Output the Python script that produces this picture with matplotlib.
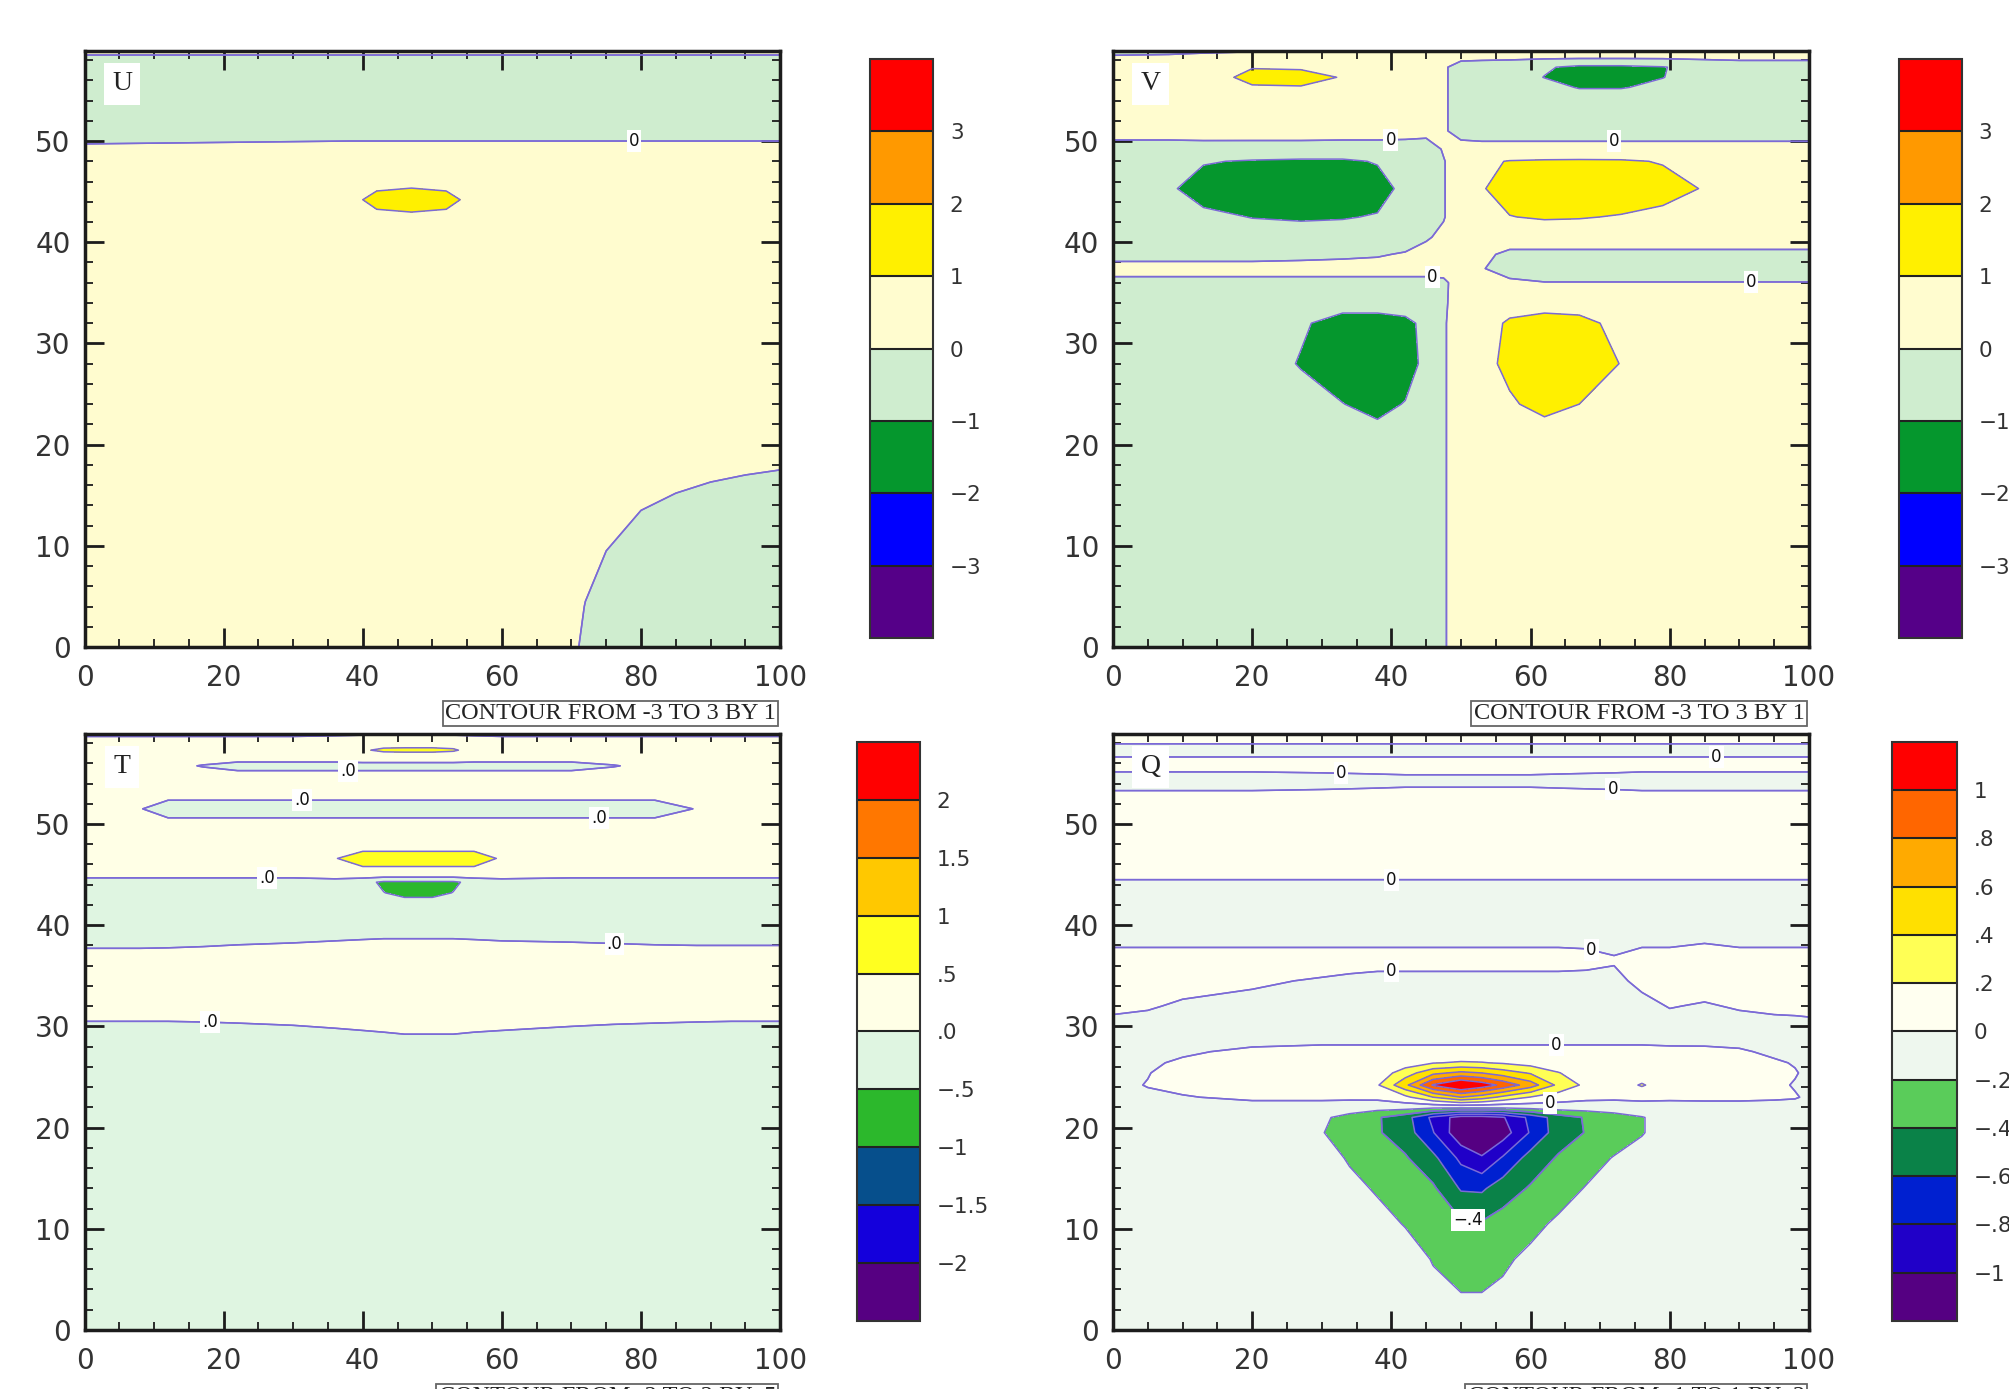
import numpy as np
import matplotlib
matplotlib.use('Agg')
import matplotlib.pyplot as plt
from matplotlib.colors import ListedColormap, BoundaryNorm
from matplotlib.ticker import MultipleLocator

plt.rcParams['contour.negative_linestyle'] = 'solid'

# ---------------- U field ----------------
u_x = [0, 20, 38, 42, 47, 52, 56, 65, 70, 72, 75, 80, 85, 90, 95, 100]
u_y = [0, 4, 8, 12, 16, 20, 40, 42, 44.2, 46.5, 48, 52, 56, 58, 59.5]
u_z = [
    [0.3, 0.3, 0.3, 0.3, 0.3, 0.3, 0.3, 0.3, 0.25, -0.225, -0.475, -0.675, -0.76, -0.8, -0.8, -0.8],
    [0.35, 0.35, 0.35, 0.35, 0.35, 0.35, 0.35, 0.35, 0.3, -0.025, -0.275, -0.475, -0.56, -0.615, -0.65, -0.675],
    [0.4, 0.4, 0.4, 0.4, 0.4, 0.4, 0.4, 0.4, 0.35, 0.175, -0.075, -0.275, -0.36, -0.415, -0.45, -0.475],
    [0.4, 0.4, 0.4, 0.4, 0.4, 0.4, 0.4, 0.4, 0.4, 0.375, 0.125, -0.075, -0.16, -0.215, -0.25, -0.275],
    [0.4, 0.4, 0.4, 0.4, 0.4, 0.4, 0.4, 0.4, 0.4, 0.4, 0.325, 0.125, 0.04, -0.015, -0.05, -0.075],
    [0.4, 0.4, 0.4, 0.4, 0.4, 0.4, 0.4, 0.4, 0.4, 0.4, 0.4, 0.325, 0.24, 0.185, 0.15, 0.125],
    [0.5, 0.5, 0.5, 0.5, 0.5, 0.5, 0.5, 0.5, 0.5, 0.5, 0.5, 0.5, 0.5, 0.5, 0.5, 0.5],
    [0.5, 0.5, 0.6, 0.6, 0.6, 0.6, 0.6, 0.5, 0.5, 0.5, 0.5, 0.5, 0.5, 0.5, 0.5, 0.5],
    [0.5, 0.5, 0.7, 1.3, 1.5, 1.3, 0.7, 0.5, 0.5, 0.5, 0.5, 0.5, 0.5, 0.5, 0.5, 0.5],
    [0.45, 0.45, 0.5, 0.5, 0.5, 0.5, 0.5, 0.45, 0.45, 0.45, 0.45, 0.45, 0.45, 0.45, 0.45, 0.45],
    [0.3, 0.35, 0.4, 0.4, 0.4, 0.4, 0.4, 0.4, 0.4, 0.4, 0.4, 0.4, 0.4, 0.4, 0.4, 0.4],
    [-0.4, -0.4, -0.4, -0.4, -0.4, -0.4, -0.4, -0.4, -0.4, -0.4, -0.4, -0.4, -0.4, -0.4, -0.4, -0.4],
    [-0.5, -0.5, -0.5, -0.5, -0.5, -0.5, -0.5, -0.5, -0.5, -0.5, -0.5, -0.5, -0.5, -0.5, -0.5, -0.5],
    [-0.1, -0.1, -0.1, -0.1, -0.1, -0.1, -0.1, -0.1, -0.1, -0.1, -0.1, -0.1, -0.1, -0.1, -0.1, -0.1],
    [0.2, 0.2, 0.2, 0.2, 0.2, 0.2, 0.2, 0.2, 0.2, 0.2, 0.2, 0.2, 0.2, 0.2, 0.2, 0.2],
]

# ---------------- V field ----------------
v_x = [0, 8, 13, 20, 27, 33, 38, 42, 45, 47.5, 50, 53, 57, 62, 67, 73, 79, 85, 90, 100]
v_y = [0, 21, 24, 28, 32, 34, 36, 37.4, 38.8, 40.5, 42.5, 45.3, 48, 49.2, 51, 54,
       55.3, 56.3, 57.3, 58.3, 59.5]
v_z = [
    [-0.5, -0.5, -0.5, -0.5, -0.5, -0.5, -0.5, -0.4, -0.3, -0.05, 0.25, 0.4, 0.4, 0.4, 0.4, 0.4, 0.4, 0.4, 0.4, 0.4],
    [-0.5, -0.5, -0.5, -0.6, -0.7, -0.7, -0.7, -0.7, -0.5, -0.05, 0.25, 0.5, 0.6, 0.65, 0.6, 0.6, 0.5, 0.4, 0.4, 0.4],
    [-0.5, -0.5, -0.5, -0.6, -0.7, -0.98, -1.3, -0.95, -0.6, -0.05, 0.25, 0.6, 0.9, 1.25, 1.0, 0.8, 0.6, 0.45, 0.4, 0.4],
    [-0.5, -0.5, -0.55, -0.6, -1.05, -1.5, -1.5, -1.5, -0.7, -0.05, 0.25, 0.75, 1.2, 1.5, 1.4, 0.98, 0.7, 0.5, 0.4, 0.4],
    [-0.5, -0.5, -0.55, -0.6, -0.9, -1.3, -1.3, -1.2, -0.8, -0.05, 0.25, 0.7, 1.1, 1.3, 1.2, 0.8, 0.6, 0.5, 0.4, 0.4],
    [-0.4, -0.4, -0.45, -0.5, -0.6, -0.7, -0.7, -0.6, -0.4, -0.08, 0.25, 0.6, 0.7, 0.7, 0.7, 0.6, 0.5, 0.4, 0.35, 0.35],
    [-0.15, -0.15, -0.15, -0.15, -0.15, -0.15, -0.15, -0.15, -0.15, -0.1, 0.25, 0.3, 0.15, 0.02, 0.02, 0.02, 0.02, 0.02, 0.02, 0.02],
    [0.2, 0.2, 0.2, 0.2, 0.2, 0.2, 0.2, 0.2, 0.2, 0.2, 0.25, 0.05, -0.35, -0.35, -0.35, -0.35, -0.35, -0.35, -0.35, -0.35],
    [-0.2, -0.2, -0.2, -0.2, -0.15, -0.1, -0.05, 0.05, 0.15, 0.2, 0.3, 0.2, -0.2, -0.2, -0.2, -0.2, -0.2, -0.2, -0.2, -0.2],
    [-0.6, -0.6, -0.65, -0.7, -0.7, -0.65, -0.5, -0.3, -0.05, 0.1, 0.3, 0.5, 0.5, 0.5, 0.5, 0.5, 0.5, 0.5, 0.5, 0.5],
    [-0.7, -0.8, -0.85, -1.02, -1.08, -1.05, -0.95, -0.6, -0.3, -0.03, 0.3, 0.75, 0.98, 1.08, 1.05, 0.95, 0.8, 0.7, 0.6, 0.5],
    [-0.6, -0.9, -1.3, -1.5, -1.5, -1.45, -1.3, -0.8, -0.5, -0.03, 0.3, 0.95, 1.3, 1.5, 1.5, 1.5, 1.3, 0.95, 0.6, 0.5],
    [-0.6, -0.8, -0.95, -1.06, -1.12, -1.12, -0.95, -0.7, -0.5, -0.03, 0.3, 0.85, 1.04, 1.1, 1.12, 1.1, 0.95, 0.7, 0.55, 0.5],
    [-0.4, -0.4, -0.4, -0.45, -0.45, -0.45, -0.4, -0.4, -0.3, 0.05, 0.3, 0.3, 0.3, 0.3, 0.3, 0.3, 0.3, 0.3, 0.3, 0.3],
    [0.4, 0.4, 0.45, 0.5, 0.5, 0.45, 0.4, 0.35, 0.2, 0.1, -0.3, -0.4, -0.4, -0.4, -0.4, -0.4, -0.4, -0.4, -0.4, -0.4],
    [0.5, 0.5, 0.6, 0.7, 0.7, 0.65, 0.5, 0.4, 0.25, 0.1, -0.3, -0.4, -0.45, -0.5, -0.5, -0.5, -0.5, -0.45, -0.4, -0.4],
    [0.5, 0.5, 0.6, 0.9, 0.95, 0.75, 0.5, 0.4, 0.25, 0.1, -0.3, -0.4, -0.5, -0.7, -1.05, -1.05, -0.8, -0.5, -0.4, -0.4],
    [0.45, 0.45, 0.5, 1.3, 1.3, 0.95, 0.5, 0.4, 0.25, 0.1, -0.3, -0.4, -0.6, -1.02, -1.3, -1.3, -1.02, -0.6, -0.4, -0.4],
    [0.3, 0.3, 0.4, 0.95, 0.9, 0.6, 0.4, 0.35, 0.2, 0.1, -0.3, -0.4, -0.5, -0.9, -1.2, -1.2, -1.05, -0.6, -0.4, -0.4],
    [0.05, 0.08, 0.12, 0.15, 0.2, 0.25, 0.3, 0.3, 0.3, 0.3, 0.2, 0.2, 0.2, 0.2, 0.2, 0.2, 0.2, 0.2, 0.2, 0.2],
    [-0.3, -0.3, -0.25, -0.2, -0.15, -0.05, 0.3, 0.3, 0.3, 0.3, 0.3, 0.3, 0.3, 0.3, 0.3, 0.3, 0.3, 0.3, 0.3, 0.3],
]

# ---------------- T field ----------------
t_x = [0, 8, 12, 17, 22, 30, 36, 40, 43, 46, 50, 53, 56, 60, 70, 76, 82, 88, 93, 100]
t_y = [0, 28, 32, 36, 40, 42, 43.2, 44.25, 45, 46.6, 48, 49.5, 51.5, 53.2, 54.8, 55.75,
       56.5, 57.3, 58, 59.3]
t_z = [
    [-0.3, -0.3, -0.3, -0.3, -0.3, -0.3, -0.3, -0.3, -0.3, -0.3, -0.3, -0.3, -0.3, -0.3, -0.3, -0.3, -0.3, -0.3, -0.3, -0.3],
    [-0.3, -0.3, -0.3, -0.28, -0.25, -0.2, -0.15, -0.12, -0.1, -0.08, -0.08, -0.08, -0.1, -0.12, -0.18, -0.22, -0.25, -0.28, -0.3, -0.3],
    [0.18, 0.18, 0.18, 0.18, 0.18, 0.18, 0.18, 0.18, 0.18, 0.18, 0.18, 0.18, 0.18, 0.18, 0.18, 0.18, 0.18, 0.18, 0.18, 0.18],
    [0.15, 0.15, 0.15, 0.16, 0.17, 0.18, 0.19, 0.2, 0.2, 0.2, 0.2, 0.2, 0.2, 0.19, 0.18, 0.17, 0.16, 0.15, 0.15, 0.15],
    [-0.2, -0.2, -0.19, -0.18, -0.16, -0.14, -0.12, -0.11, -0.1, -0.1, -0.1, -0.1, -0.11, -0.12, -0.13, -0.14, -0.15, -0.15, -0.15, -0.15],
    [-0.3, -0.3, -0.3, -0.3, -0.3, -0.3, -0.3, -0.3, -0.3, -0.3, -0.3, -0.3, -0.3, -0.3, -0.3, -0.3, -0.3, -0.3, -0.3, -0.3],
    [-0.3, -0.3, -0.3, -0.3, -0.3, -0.3, -0.3, -0.3, -0.49, -0.62, -0.62, -0.49, -0.3, -0.3, -0.3, -0.3, -0.3, -0.3, -0.3, -0.3],
    [-0.2, -0.2, -0.2, -0.2, -0.2, -0.2, -0.2, -0.35, -0.58, -0.58, -0.58, -0.58, -0.35, -0.2, -0.2, -0.2, -0.2, -0.2, -0.2, -0.2],
    [0.15, 0.15, 0.15, 0.15, 0.15, 0.15, 0.25, 0.3, 0.3, 0.3, 0.3, 0.3, 0.3, 0.25, 0.15, 0.15, 0.15, 0.15, 0.15, 0.15],
    [0.2, 0.2, 0.2, 0.2, 0.2, 0.3, 0.48, 0.7, 0.7, 0.7, 0.7, 0.7, 0.7, 0.45, 0.3, 0.2, 0.2, 0.2, 0.2, 0.2],
    [0.3, 0.3, 0.3, 0.3, 0.3, 0.3, 0.3, 0.3, 0.3, 0.3, 0.3, 0.3, 0.3, 0.3, 0.3, 0.3, 0.3, 0.3, 0.3, 0.3],
    [0.25, 0.25, 0.25, 0.25, 0.25, 0.25, 0.25, 0.25, 0.25, 0.25, 0.25, 0.25, 0.25, 0.25, 0.25, 0.25, 0.25, 0.25, 0.25, 0.25],
    [0.1, 0.02, -0.2, -0.2, -0.2, -0.2, -0.2, -0.2, -0.2, -0.2, -0.2, -0.2, -0.2, -0.2, -0.2, -0.2, -0.2, 0.02, 0.1, 0.15],
    [0.2, 0.2, 0.2, 0.2, 0.2, 0.2, 0.2, 0.2, 0.2, 0.2, 0.2, 0.2, 0.2, 0.2, 0.2, 0.2, 0.2, 0.2, 0.2, 0.2],
    [0.15, 0.15, 0.15, 0.15, 0.15, 0.15, 0.15, 0.15, 0.15, 0.15, 0.15, 0.15, 0.15, 0.15, 0.15, 0.15, 0.15, 0.15, 0.15, 0.15],
    [0.15, 0.15, 0.1, -0.02, -0.15, -0.15, -0.15, -0.15, -0.15, -0.15, -0.15, -0.15, -0.15, -0.15, -0.15, -0.02, 0.1, 0.15, 0.15, 0.15],
    [0.15, 0.15, 0.15, 0.15, 0.15, 0.15, 0.15, 0.2, 0.2, 0.2, 0.2, 0.2, 0.15, 0.15, 0.15, 0.15, 0.15, 0.15, 0.15, 0.15],
    [0.2, 0.2, 0.2, 0.2, 0.2, 0.2, 0.3, 0.45, 0.58, 0.6, 0.6, 0.55, 0.35, 0.25, 0.2, 0.2, 0.2, 0.2, 0.2, 0.2],
    [0.2, 0.2, 0.2, 0.2, 0.2, 0.2, 0.25, 0.3, 0.3, 0.3, 0.3, 0.3, 0.25, 0.2, 0.2, 0.2, 0.2, 0.2, 0.2, 0.2],
    [-0.2, -0.2, -0.2, -0.2, -0.2, -0.2, -0.2, -0.2, -0.2, -0.2, -0.2, -0.2, -0.2, -0.2, -0.2, -0.2, -0.2, -0.2, -0.2, -0.2],
]

# ---------------- Q field ----------------
q_x = [0, 5, 10, 20, 30, 34, 38, 42, 46, 50, 53, 56, 60, 64, 68, 72, 76, 80, 85, 90, 95, 98, 100]
q_y = [0, 3, 7, 10.5, 14, 17, 19.5, 21, 22, 23, 24.2, 25.4, 26.4, 27.5, 29.5, 32, 34.5,
       36.6, 39, 43, 46, 52.3, 54.3, 56, 57.25, 58.6]
q_z = [
    [-0.05, -0.05, -0.06, -0.07, -0.08, -0.09, -0.1, -0.11, -0.12, -0.13, -0.13, -0.12, -0.11, -0.1, -0.09, -0.08, -0.07, -0.06, -0.05, -0.05, -0.05, -0.05, -0.05],
    [-0.05, -0.05, -0.06, -0.07, -0.08, -0.09, -0.1, -0.12, -0.15, -0.185, -0.185, -0.16, -0.12, -0.1, -0.09, -0.08, -0.07, -0.06, -0.05, -0.05, -0.05, -0.05, -0.05],
    [-0.05, -0.05, -0.06, -0.07, -0.08, -0.09, -0.1, -0.12, -0.21, -0.27, -0.27, -0.23, -0.16, -0.1, -0.09, -0.08, -0.07, -0.06, -0.05, -0.05, -0.05, -0.05, -0.05],
    [-0.05, -0.05, -0.06, -0.07, -0.08, -0.08, -0.14, -0.21, -0.28, -0.37, -0.38, -0.32, -0.25, -0.17, -0.12, -0.09, -0.07, -0.06, -0.05, -0.05, -0.05, -0.05, -0.05],
    [-0.05, -0.05, -0.06, -0.07, -0.1, -0.15, -0.22, -0.29, -0.37, -0.62, -0.63, -0.5, -0.38, -0.28, -0.19, -0.13, -0.09, -0.07, -0.06, -0.05, -0.05, -0.05, -0.05],
    [-0.05, -0.05, -0.06, -0.08, -0.12, -0.22, -0.3, -0.38, -0.55, -0.85, -0.98, -0.78, -0.52, -0.38, -0.28, -0.19, -0.14, -0.1, -0.07, -0.06, -0.05, -0.05, -0.05],
    [-0.05, -0.05, -0.06, -0.1, -0.19, -0.3, -0.38, -0.5, -0.79, -1.15, -1.2, -1.1, -0.78, -0.5, -0.39, -0.3, -0.21, -0.12, -0.08, -0.06, -0.05, -0.05, -0.05],
    [-0.05, -0.05, -0.06, -0.1, -0.17, -0.26, -0.38, -0.52, -0.85, -1.1, -1.1, -1.02, -0.75, -0.5, -0.38, -0.28, -0.21, -0.12, -0.08, -0.06, -0.05, -0.05, -0.05],
    [-0.05, -0.05, -0.05, -0.06, -0.06, -0.1, -0.12, -0.12, -0.15, -0.15, -0.15, -0.15, -0.12, -0.1, -0.1, -0.1, -0.08, -0.06, -0.05, -0.05, -0.05, -0.05, -0.05],
    [-0.03, -0.02, -0.01, 0.03, 0.03, 0.04, 0.05, 0.15, 0.4, 0.6, 0.5, 0.35, 0.19, 0.1, 0.05, 0.04, 0.05, 0.03, 0.03, 0.03, 0.02, 0.01, -0.02],
    [-0.03, 0.005, 0.04, 0.05, 0.05, 0.05, 0.18, 0.55, 1.02, 1.25, 1.12, 0.95, 0.7, 0.35, 0.15, 0.08, 0.22, 0.07, 0.05, 0.05, 0.03, -0.01, -0.04],
    [-0.04, -0.005, 0.05, 0.05, 0.05, 0.06, 0.08, 0.3, 0.55, 0.65, 0.6, 0.5, 0.38, 0.21, 0.08, 0.06, 0.08, 0.05, 0.05, 0.05, 0.05, 0.01, -0.03],
    [-0.04, -0.02, 0.02, 0.04, 0.04, 0.04, 0.04, 0.1, 0.19, 0.22, 0.21, 0.18, 0.12, 0.07, 0.05, 0.05, 0.05, 0.04, 0.04, 0.04, 0.02, -0.01, -0.04],
    [-0.06, -0.05, -0.02, 0.03, 0.05, 0.05, 0.05, 0.05, 0.05, 0.05, 0.05, 0.05, 0.05, 0.05, 0.05, 0.05, 0.05, 0.04, 0.03, 0.02, -0.03, -0.05, -0.06],
    [-0.1, -0.1, -0.1, -0.1, -0.1, -0.1, -0.1, -0.1, -0.1, -0.1, -0.1, -0.1, -0.1, -0.1, -0.1, -0.1, -0.1, -0.1, -0.08, -0.1, -0.1, -0.1, -0.08],
    [0.05, 0.02, -0.03, -0.06, -0.1, -0.1, -0.1, -0.1, -0.1, -0.1, -0.1, -0.1, -0.1, -0.1, -0.1, -0.1, -0.06, 0.01, -0.02, 0.02, 0.05, 0.06, 0.06],
    [0.1, 0.09, 0.08, 0.03, -0.02, -0.05, -0.08, -0.08, -0.08, -0.08, -0.08, -0.08, -0.08, -0.08, -0.08, -0.05, 0.05, 0.08, 0.1, 0.1, 0.1, 0.1, 0.1],
    [0.1, 0.1, 0.1, 0.1, 0.1, 0.1, 0.1, 0.1, 0.1, 0.1, 0.1, 0.1, 0.1, 0.1, 0.08, 0.02, 0.1, 0.1, 0.1, 0.1, 0.1, 0.1, 0.1],
    [-0.1, -0.1, -0.1, -0.1, -0.1, -0.1, -0.1, -0.1, -0.1, -0.1, -0.1, -0.1, -0.1, -0.1, -0.1, -0.1, -0.1, -0.1, -0.05, -0.1, -0.1, -0.1, -0.1],
    [-0.1, -0.1, -0.1, -0.1, -0.1, -0.1, -0.1, -0.1, -0.1, -0.1, -0.1, -0.1, -0.1, -0.1, -0.1, -0.1, -0.1, -0.1, -0.1, -0.1, -0.1, -0.1, -0.1],
    [0.1, 0.1, 0.1, 0.1, 0.1, 0.1, 0.1, 0.1, 0.1, 0.1, 0.1, 0.1, 0.1, 0.1, 0.1, 0.1, 0.1, 0.1, 0.1, 0.1, 0.1, 0.1, 0.1],
    [0.1, 0.1, 0.1, 0.1, 0.1, 0.1, 0.1, 0.1, 0.1, 0.1, 0.1, 0.1, 0.1, 0.1, 0.1, 0.1, 0.1, 0.1, 0.1, 0.1, 0.1, 0.1, 0.1],
    [-0.1, -0.1, -0.1, -0.1, -0.08, -0.07, -0.06, -0.05, -0.05, -0.05, -0.05, -0.05, -0.05, -0.06, -0.07, -0.08, -0.1, -0.1, -0.1, -0.1, -0.1, -0.1, -0.1],
    [0.1, 0.1, 0.1, 0.1, 0.1, 0.1, 0.1, 0.1, 0.1, 0.1, 0.1, 0.1, 0.1, 0.1, 0.1, 0.1, 0.1, 0.1, 0.1, 0.1, 0.1, 0.1, 0.1],
    [-0.1, -0.1, -0.1, -0.1, -0.1, -0.1, -0.1, -0.1, -0.1, -0.1, -0.1, -0.1, -0.1, -0.1, -0.1, -0.1, -0.1, -0.1, -0.1, -0.1, -0.1, -0.1, -0.1],
    [0.1, 0.1, 0.1, 0.1, 0.1, 0.1, 0.1, 0.1, 0.1, 0.1, 0.1, 0.1, 0.1, 0.1, 0.1, 0.1, 0.1, 0.1, 0.1, 0.1, 0.1, 0.1, 0.1],
]

# ---------------- levels, colours, labels ----------------
uv_levels = [-3, -2, -1, 0, 1, 2, 3]
uv_colors = ['#550088', '#0000FF', '#05972D', '#CFEDCF', '#FFFCCF', '#FFF000', '#FF9900', '#FF0000']
uv_ticklabels = ['\u22123', '\u22122', '\u22121', '0', '1', '2', '3']

t_levels = [-2, -1.5, -1, -0.5, 0, 0.5, 1, 1.5, 2]
t_colors = ['#560082', '#1400DC', '#064F8C', '#2CB82C', '#DFF5E1', '#FFFFE6',
            '#FFFF20', '#FFC800', '#FF7700', '#FF0000']
t_ticklabels = ['\u22122', '\u22121.5', '\u22121', '\u2212.5', '.0', '.5', '1', '1.5', '2']

q_levels = [-1, -0.8, -0.6, -0.4, -0.2, 0, 0.2, 0.4, 0.6, 0.8, 1]
q_colors = ['#550082', '#2000C8', '#0020D0', '#0A8248', '#5ACC5A', '#EEF7EE', '#FFFFF0',
            '#FFFF55', '#FFE000', '#FFAA00', '#FF6600', '#FF0000']
q_ticklabels = ['\u22121', '\u2212.8', '\u2212.6', '\u2212.4', '\u2212.2', '0', '.2', '.4', '.6', '.8', '1']

LINE = '#7B6AD6'
FRAME = '#1c1c1c'

fig = plt.figure(figsize=(20.09, 13.89), dpi=100)
fig.patch.set_facecolor('white')


def panel(ax_rect, cb_rect, x, y, z, levels, colors, ticklabels, name, footer,
          lab_levels, lab_fmt, lab_pos):
    ax = fig.add_axes(ax_rect)
    Z = np.array(z, dtype=float)
    cmap = ListedColormap(colors[1:-1])
    cmap.set_under(colors[0])
    cmap.set_over(colors[-1])
    norm = BoundaryNorm(levels, cmap.N)
    cf = ax.contourf(x, y, Z, levels=levels, cmap=cmap, norm=norm, extend='both')
    ax.contour(x, y, Z, levels=levels, colors=LINE, linewidths=1.1, linestyles='solid')
    # separate contour set holding only the labelled levels
    cs_lab = ax.contour(x, y, Z, levels=lab_levels, colors=LINE, linewidths=1.1,
                        linestyles='solid')
    labels = ax.clabel(cs_lab, manual=lab_pos, inline=False,
                       fmt=lab_fmt, fontsize=12, colors='#111111')
    for t in labels:
        t.set_rotation(0)
        t.set_bbox(dict(boxstyle='square,pad=0.12', fc='white', ec='none'))
    ax.set_xlim(0, 100)
    ax.set_ylim(0, 58.9)
    ax.xaxis.set_major_locator(MultipleLocator(20))
    ax.xaxis.set_minor_locator(MultipleLocator(5))
    ax.yaxis.set_major_locator(MultipleLocator(10))
    ax.yaxis.set_minor_locator(MultipleLocator(2))
    ax.tick_params(which='both', direction='in', top=True, right=True,
                   color=FRAME, labelcolor='#333333')
    ax.tick_params(which='major', length=14, width=2.0, labelsize=20)
    ax.tick_params(which='minor', length=6, width=1.3)
    ax.tick_params(axis='x', which='major', pad=12)
    ax.tick_params(axis='y', which='major', pad=10)
    for s in ax.spines.values():
        s.set_linewidth(2.5)
        s.set_color(FRAME)
    ax.text(0.054, 0.945, name, transform=ax.transAxes, ha='center', va='center',
            fontsize=20, family='Liberation Serif', color='#222222',
            bbox=dict(boxstyle='square,pad=0.3', fc='white', ec='none'))
    ax.text(0.994, -0.094, footer, transform=ax.transAxes, ha='right', va='top',
            fontsize=17.5, family='Liberation Serif', color='#222222',
            bbox=dict(boxstyle='square,pad=0.1', fc='white', ec='#666666', lw=1.3))

    cax = fig.add_axes(cb_rect)
    n_inner = len(levels) - 1
    cb = fig.colorbar(cf, cax=cax, ticks=levels, drawedges=True, extendrect=True,
                      extendfrac=1.0 / n_inner)
    cb.set_ticklabels(ticklabels)
    cb.outline.set_edgecolor('#333333')
    cb.outline.set_linewidth(1.5)
    cb.dividers.set_color('#222222')
    cb.dividers.set_linewidth(1.5)
    cax.tick_params(length=0, labelsize=15.5, pad=12, labelcolor='#333333')
    return ax


def zero_fmt(v):
    return '0'


def t_fmt(v):
    return '.0'


def q_fmt(v):
    return '0' if abs(v) < 1e-9 else '\u2212.4'


panel([0.0421, 0.5342, 0.3462, 0.4291], [0.4331, 0.5407, 0.0314, 0.4168],
      u_x, u_y, u_z, uv_levels, uv_colors, uv_ticklabels, 'U',
      'CONTOUR FROM -3 TO 3 BY 1', [0], zero_fmt, [(79.0, 50.1)])

panel([0.5540, 0.5342, 0.3464, 0.4291], [0.9452, 0.5407, 0.0314, 0.4168],
      v_x, v_y, v_z, uv_levels, uv_colors, uv_ticklabels, 'V',
      'CONTOUR FROM -3 TO 3 BY 1', [0], zero_fmt,
      [(39.9, 50.2), (72.0, 50.1), (45.8, 35.6), (91.7, 36.1)])

panel([0.0421, 0.0425, 0.3462, 0.4291], [0.4266, 0.0490, 0.0314, 0.4168],
      t_x, t_y, t_z, t_levels, t_colors, t_ticklabels, 'T',
      'CONTOUR FROM -2 TO 2 BY .5', [0], t_fmt,
      [(18.0, 30.4), (76.2, 38.3), (26.2, 44.6), (31.3, 52.4), (74.0, 50.7), (37.9, 55.4)])

panel([0.5540, 0.0425, 0.3464, 0.4291], [0.9418, 0.0490, 0.0324, 0.4168],
      q_x, q_y, q_z, q_levels, q_colors, q_ticklabels, 'Q',
      'CONTOUR FROM -1 TO 1 BY .2', [-0.4, 0], q_fmt,
      [(32.8, 55.1), (86.7, 56.5), (71.8, 53.4), (40.0, 44.6), (68.9, 38.0),
       (40.0, 35.6), (63.7, 28.0), (62.8, 22.7), (51.0, 10.4)])

fig.savefig('out.png', dpi=100, facecolor='white')
